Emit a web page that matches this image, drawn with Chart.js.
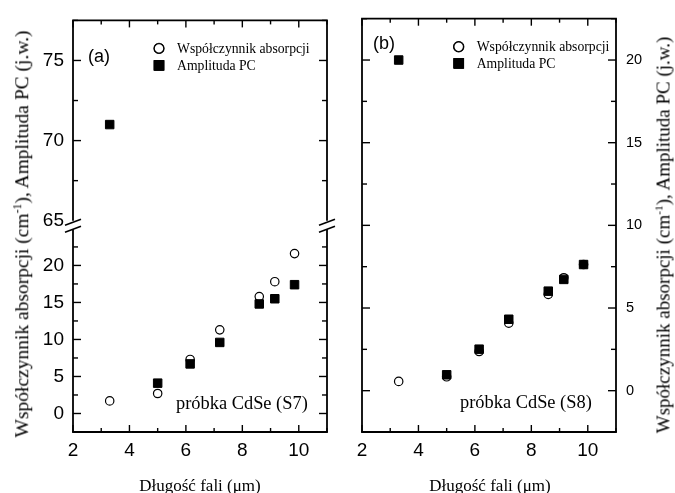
<!DOCTYPE html>
<html>
<head>
<meta charset="utf-8">
<script src="https://cdn.jsdelivr.net/npm/chart.js@4.4.1/dist/chart.umd.min.js"></script>
<style>
html, body { margin: 0; padding: 0; background: #fff; }
#wrap { position: relative; width: 675px; height: 493px; overflow: hidden; background: #fff; }
canvas { position: absolute; top: 0; }
.t { position: absolute; font-family: "Liberation Serif", "Times New Roman", serif; color: #000; white-space: nowrap; line-height: 1; }
.rot { transform: translate(-50%, -50%) rotate(-90deg); }
.ctr { transform: translate(-50%, -50%); }
.mid { transform: translateY(-50%); }
.sans { font-family: "Liberation Sans", Arial, sans-serif; }
sup { font-size: 60%; vertical-align: 0; position: relative; top: -0.6em; }
</style>
</head>
<body>
<div id="wrap">
  <canvas id="s7" width="340" height="493"></canvas>
  <canvas id="s8" width="335" height="493" style="left:340px"></canvas>

  <div class="t rot" style="left:22px; top:234px; font-size:19.5px">Współczynnik absorpcji (cm<sup>-1</sup>), Amplituda PC (j.w.)</div>
  <div class="t rot" style="left:663px; top:235px; font-size:19px">Współczynnik absorpcji (cm<sup>-1</sup>), Amplituda PC (j.w.)</div>

  <div class="t ctr" style="left:200px; top:485px; font-size:17px">Długość fali (μm)</div>
  <div class="t ctr" style="left:490px; top:485px; font-size:17px">Długość fali (μm)</div>

  <div class="t mid sans" style="left:88px; top:56px; font-size:18px">(a)</div>
  <div class="t mid sans" style="left:373px; top:43px; font-size:18px">(b)</div>

  <div class="t mid" style="left:176px; top:403px; font-size:18.4px">próbka CdSe (S7)</div>
  <div class="t mid" style="left:460px; top:402px; font-size:18.4px">próbka CdSe (S8)</div>
</div>

<script>
// wavelengths (um)
const wavelength = [3.3, 5.0, 6.15, 7.2, 8.6, 9.15, 9.85];

// sample S7 (panel a)
const absorptionS7 = [1.7, 2.7, 7.3, 11.3, 15.8, 17.8, 21.6];
const amplitudeS7 = [71.0, 4.1, 6.7, 9.6, 14.8, 15.5, 17.4];

// sample S8 (panel b)
const absorptionS8 = [0.56, 0.84, 2.37, 4.08, 5.82, 6.83, 7.63];
const amplitudeS8 = [20.0, 0.96, 2.51, 4.32, 6.02, 6.73, 7.63];

// tick labels
const xTickLabels = [2, 4, 6, 8, 10];
const yTickLabelsS7Top = [65, 70, 75];
const yTickLabelsS7Bottom = [0, 5, 10, 15, 20];
const yTickLabelsS8 = [0, 5, 10, 15, 20];

const legendLabels = ['Współczynnik absorpcji', 'Amplituda PC'];

function points(ys) {
    return wavelength.map(function (x, i) { return { x: x, y: ys[i] }; });
}

function circleSet(ys, yAxis) {
    return {
        data: points(ys),
        yAxisID: yAxis,
        showLine: false,
        pointStyle: 'circle',
        pointRadius: 4.2,
        pointBorderWidth: 1.2,
        pointBorderColor: '#000',
        pointBackgroundColor: '#fff',
        order: 2
    };
}

function squareSet(ys, yAxis) {
    return {
        data: points(ys),
        yAxisID: yAxis,
        showLine: false,
        pointStyle: 'rect',
        pointRadius: 6,
        pointBorderWidth: 1,
        pointBorderColor: '#000',
        pointBackgroundColor: '#000',
        order: 1
    };
}

function labelOnly(list) {
    return function (v) { return list.includes(v) ? String(v) : ''; };
}

function xScale() {
    return {
        type: 'linear',
        position: 'bottom',
        min: 2,
        max: 11,
        grid: { display: false, drawTicks: false },
        border: { display: false },
        ticks: {
            stepSize: 1,
            autoSkip: false,
            maxRotation: 0,
            padding: 7,
            color: '#000',
            font: { family: 'Liberation Sans', size: 19 },
            callback: labelOnly(xTickLabels)
        },
        afterFit: function (s) { s.height = 61; }
    };
}

function line(ctx, x1, y1, x2, y2, w) {
    ctx.lineWidth = w;
    ctx.beginPath();
    ctx.moveTo(x1, y1);
    ctx.lineTo(x2, y2);
    ctx.stroke();
}

// box, inward ticks, axis break and legend
const framePlugin = {
    id: 'frame',
    afterDraw: function (chart, args, o) {
        const ctx = chart.ctx;
        const a = chart.chartArea;
        const breakY = o.breakAxis ? chart.scales[o.breakAxis].bottom : null;
        ctx.save();
        ctx.strokeStyle = '#000';

        const xs = chart.scales.x;
        xs.ticks.forEach(function (t) {
            const px = xs.getPixelForValue(t.value);
            const len = t.label ? 7 : 4;
            line(ctx, px, a.bottom, px, a.bottom - len, 1.4);
            line(ctx, px, a.top, px, a.top + len, 1.4);
        });

        o.yAxes.forEach(function (id) {
            const s = chart.scales[id];
            s.ticks.forEach(function (t) {
                const py = s.getPixelForValue(t.value);
                if (breakY !== null && Math.abs(py - breakY) < 5) return;
                const len = t.label ? 8 : 5;
                line(ctx, a.left, py, a.left + len, py, 1.4);
                line(ctx, a.right, py, a.right - len, py, 1.4);
            });
        });

        line(ctx, a.left - 0.9, a.top, a.right + 0.9, a.top, 1.8);
        line(ctx, a.left - 0.9, a.bottom, a.right + 0.9, a.bottom, 1.8);
        [a.left, a.right].forEach(function (x) {
            if (breakY === null) {
                line(ctx, x, a.top, x, a.bottom, 1.8);
            } else {
                line(ctx, x, a.top, x, breakY - 4, 1.8);
                line(ctx, x, breakY + 4.5, x, a.bottom, 1.8);
                line(ctx, x - 8, breakY + 0.5, x + 8, breakY - 5.5, 1.5);
                line(ctx, x - 8, breakY + 7.5, x + 8, breakY + 1.5, 1.5);
            }
        });

        // legend
        const lg = o.legend;
        const styles = [chart.data.datasets[0], chart.data.datasets[1]];
        ctx.fillStyle = '#000';
        ctx.font = '13.7px "Liberation Serif"';
        ctx.textBaseline = 'middle';
        ctx.textAlign = 'left';
        legendLabels.forEach(function (txt, i) {
            const ds = styles[i];
            const y = a.top + lg.y + i * lg.dy;
            Chart.helpers.drawPoint(ctx, {
                pointStyle: ds.pointStyle,
                radius: ds.pointStyle === 'rect' ? 6.8 : 4.8,
                borderWidth: ds.pointBorderWidth,
                rotation: 0
            }, a.left + lg.x, y);
            ctx.fillStyle = ds.pointBackgroundColor;
            ctx.strokeStyle = '#000';
            ctx.lineWidth = ds.pointBorderWidth;
            ctx.fill();
            ctx.stroke();
            ctx.fillStyle = '#000';
            ctx.fillText(txt, a.left + lg.x + 18, y + 0.5);
        });
        ctx.restore();
    }
};

function yStyle(labels, size, padding) {
    return {
        stepSize: 2.5,
        includeBounds: false,
        autoSkip: false,
        padding: padding,
        color: '#000',
        font: { family: 'Liberation Sans', size: size },
        callback: labelOnly(labels)
    };
}

const commonOpts = {
    responsive: false,
    animation: false,
    events: [],
    plugins: { legend: { display: false }, tooltip: { enabled: false } }
};

// panel (a) with broken axis
new Chart(document.getElementById('s7'), {
    type: 'scatter',
    data: {
        datasets: [
            circleSet(absorptionS7, 'yBot'),
            squareSet(amplitudeS7, 'yBot'),
            circleSet(absorptionS7, 'yTop'),
            squareSet(amplitudeS7, 'yTop')
        ]
    },
    options: Object.assign({}, commonOpts, {
        layout: { padding: { top: 15, right: 13, left: 0, bottom: 0 } },
        scales: {
            x: xScale(),
            yBot: {
                type: 'linear', position: 'left', stack: 's7', stackWeight: 210,
                min: -2.5, max: 25.5,
                grid: { display: false, drawTicks: false }, border: { display: false },
                ticks: yStyle(yTickLabelsS7Bottom, 19, 9),
                afterFit: function (s) { s.width = 73; }
            },
            yTop: {
                type: 'linear', position: 'left', stack: 's7', stackWeight: 207,
                min: 64.75, max: 77.5,
                grid: { display: false, drawTicks: false }, border: { display: false },
                ticks: yStyle(yTickLabelsS7Top, 19, 9),
                afterFit: function (s) { s.width = 73; }
            }
        },
        plugins: Object.assign({}, commonOpts.plugins, {
            frame: { yAxes: ['yTop', 'yBot'], breakAxis: 'yTop', legend: { x: 86, y: 28, dy: 17 } }
        })
    }),
    plugins: [framePlugin]
});

// panel (b)
new Chart(document.getElementById('s8'), {
    type: 'scatter',
    data: {
        datasets: [
            circleSet(absorptionS8, 'y'),
            squareSet(amplitudeS8, 'y')
        ]
    },
    options: Object.assign({}, commonOpts, {
        layout: { padding: { top: 15, right: 0, left: 22, bottom: 0 } },
        scales: {
            x: xScale(),
            y: {
                type: 'linear', position: 'right',
                min: -2.5, max: 22.5,
                grid: { display: false, drawTicks: false }, border: { display: false },
                ticks: yStyle(yTickLabelsS8, 14.5, 10),
                afterFit: function (s) { s.width = 59; }
            }
        },
        plugins: Object.assign({}, commonOpts.plugins, {
            frame: { yAxes: ['y'], breakAxis: null, legend: { x: 96.7, y: 28, dy: 16.7 } }
        })
    }),
    plugins: [framePlugin]
});
</script>
</body>
</html>
